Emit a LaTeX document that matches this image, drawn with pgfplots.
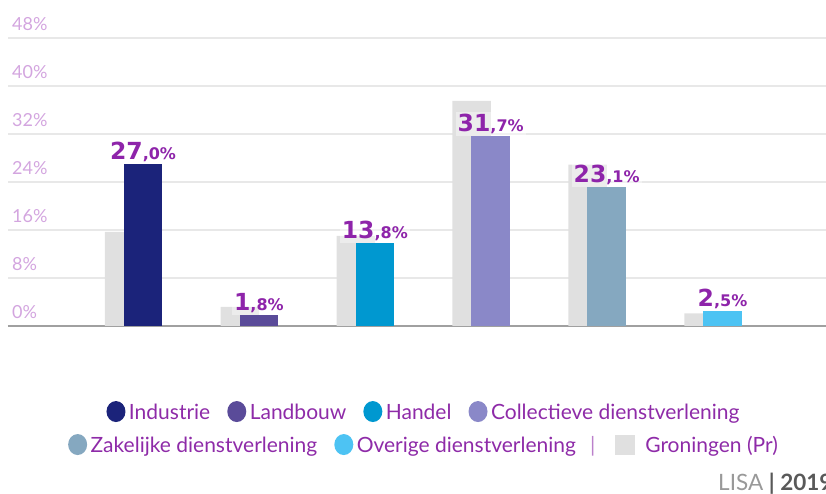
\documentclass[border=0pt]{standalone}
\usepackage{pgfplots}
\pgfplotsset{compat=1.18}
\usepackage{fontspec}
\setmainfont{Lato}
\newfontfamily\lblfont{DejaVu Sans}
\definecolor{cInd}{HTML}{1B237A}
\definecolor{cLand}{HTML}{5A4B99}
\definecolor{cHan}{HTML}{0098D0}
\definecolor{cCol}{HTML}{8A88C8}
\definecolor{cZak}{HTML}{85A8C0}
\definecolor{cOv}{HTML}{4DC3F3}
\definecolor{cGro}{HTML}{E0E0E0}
\definecolor{lblpurple}{HTML}{8E24AA}
\definecolor{legtext}{HTML}{8E2BA8}
\definecolor{ticktext}{HTML}{D3A5DF}
\definecolor{gridc}{HTML}{E8E8E8}
\definecolor{axisc}{HTML}{A0A0A0}
\newcommand\lgc[1]{\tikz[baseline=-0.36em]\fill[#1] (0,0) ellipse (9.5pt and 10.5pt);}
\newcommand\vlab[2]{{\lblfont\bfseries\fontsize{23.5}{25}\selectfont #1\fontsize{16}{18}\selectfont ,#2\%}}
\begin{document}
\begin{tikzpicture}[x=1pt,y=1pt]
\useasboundingbox (0,0) rectangle (826,494);
\begin{axis}[
  at={(8pt,168pt)}, anchor=south west,
  scale only axis, width=818pt, height=288pt,
  xmin=-1.165, xmax=5.893, ymin=0, ymax=48,
  ytick={0,8,...,48}, xtick=\empty,
  axis x line*=bottom, axis y line*=left,
  y axis line style={draw=none},
  x axis line style={axisc, line width=2pt},
  major tick length=0pt,
  ymajorgrids, grid style={gridc, line width=1.6pt},
  yticklabel={\pgfmathprintnumber{\tick}\%},
  /pgf/number format/assume math mode=true,
  yticklabel style={anchor=south west, inner sep=0pt, xshift=4pt, yshift=7pt, text=ticktext, font=\fontsize{18}{20}\selectfont},
  ybar, bar width=38.5pt,
  every node near coord/.style={fill=white, fill opacity=0.4, text opacity=1, text=lblpurple, inner sep=2pt, anchor=south},
  clip=false,
]
% Groningen (Pr) background bars
\addplot[fill=cGro, draw=none, bar shift=-19pt] coordinates {(0,15.7) (1,3.2) (2,15.0) (3,37.5) (4,26.9) (5,2.1)};
\addplot[fill=cInd, draw=none, bar shift=0pt, nodes near coords={\vlab{27}{0}}] coordinates {(0,27.0)};
\addplot[fill=cLand, draw=none, bar shift=0pt, nodes near coords={\vlab{1}{8}}] coordinates {(1,1.8)};
\addplot[fill=cHan, draw=none, bar shift=0pt, nodes near coords={\vlab{13}{8}}] coordinates {(2,13.8)};
\addplot[fill=cCol, draw=none, bar shift=0pt, nodes near coords={\vlab{31}{7}}] coordinates {(3,31.7)};
\addplot[fill=cZak, draw=none, bar shift=0pt, nodes near coords={\vlab{23}{1}}] coordinates {(4,23.1)};
\addplot[fill=cOv, draw=none, bar shift=0pt, nodes near coords={\vlab{2}{5}}] coordinates {(5,2.5)};
\end{axis}
\node[font=\fontsize{21}{24}\selectfont, text=legtext, inner sep=0pt] at (423,82)
  {\lgc{cInd}\,Industrie\hspace{17pt}\lgc{cLand}\,Landbouw\hspace{17pt}\lgc{cHan}\,Handel\hspace{17pt}\lgc{cCol}\,Collectieve dienstverlening};
\node[font=\fontsize{21}{24}\selectfont, text=legtext, inner sep=0pt] at (423,49)
  {\lgc{cZak}\,Zakelijke dienstverlening\hspace{17pt}\lgc{cOv}\,Overige dienstverlening\hspace{14pt}{\color{legtext!60}|}\hspace{20pt}\tikz[baseline=-0.36em]\fill[cGro] (-10pt,-10pt) rectangle (10pt,10pt);\hspace{10pt}Groningen (Pr)};
\node[anchor=base west, inner sep=0pt, font=\fontsize{22.5}{24}\selectfont] at (718,3)
  {\textcolor{black!40}{LISA} \textcolor{black!65}{\textbf{| 2019}}};
\end{tikzpicture}
\end{document}
